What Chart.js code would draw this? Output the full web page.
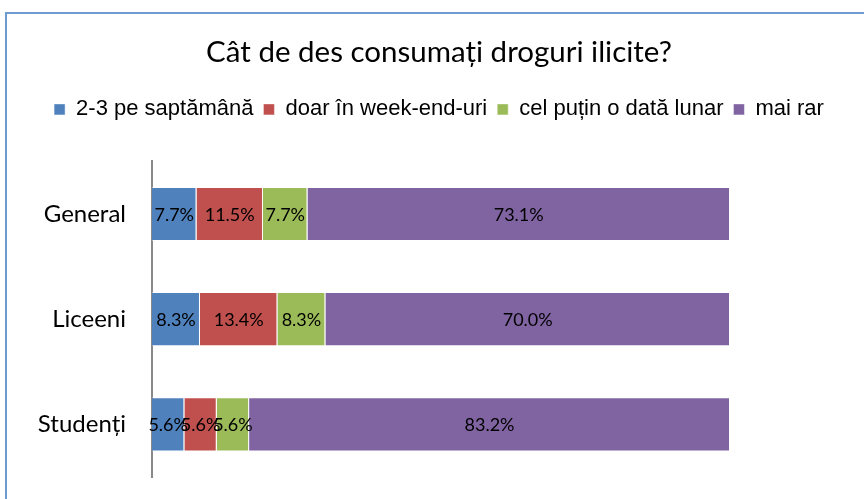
<!DOCTYPE html>
<html>
<head>
<meta charset="utf-8">
<script src="https://cdn.jsdelivr.net/npm/chart.js@4"></script>
<style>
html,body{margin:0;padding:0;background:#fff;}
#wrap{position:relative;width:864px;height:499px;overflow:hidden;}
#frame{position:absolute;left:5px;top:12px;width:900px;height:600px;border-left:2px solid #6f9bd0;border-top:2px solid #6f9bd0;}
canvas{position:absolute;left:0;top:0;}
</style>
</head>
<body>
<div id="wrap">
<div id="frame"></div>
<canvas id="c" width="864" height="499"></canvas>
</div>
<script>
const categories = ["General","Liceeni","Studenți"];

const seriesNames = [
"2-3 pe saptămână",
"doar în week-end-uri",
"cel puțin o dată lunar",
"mai rar"
];

const weekly = [7.7, 8.3, 5.6];
const weekends = [11.5, 13.4, 5.6];
const monthly = [7.7, 8.3, 5.6];
const rarely = [73.1, 70.0, 83.2];

const colors = ["#4F81BD","#C0504D","#9BBB59","#8064A2"];

const values = [weekly, weekends, monthly, rarely];

// labels in the middle of each piece
const segLabels = {
id:"segLabels",
afterDatasetsDraw(chart){
const ctx = chart.ctx;
ctx.save();
ctx.font = "18px Lato";
ctx.fillStyle = "#000";
ctx.textAlign = "center";
ctx.textBaseline = "middle";
chart.data.datasets.forEach((ds,i)=>{
chart.getDatasetMeta(i).data.forEach((bar,j)=>{
const p = bar.getProps(["x","y","base"],true);
ctx.fillText(ds.data[j].toFixed(1)+"%", (p.x+p.base)/2, p.y+1);
});
});
ctx.restore();
}
};

// extra room under the legend
const legendGap = {
id:"legendGap",
beforeInit(chart){
const fit = chart.legend.fit;
chart.legend.fit = function(){
fit.bind(chart.legend)();
this.height += 31;
};
}
};

new Chart(
document.getElementById("c"),
{
type:"bar",
data:{
labels:categories,
datasets:values.map((v,i)=>({
label:seriesNames[i],
data:v,
backgroundColor:colors[i],
borderColor:"rgba(255,255,255,0.45)",
borderWidth:1,
categoryPercentage:0.515,
barPercentage:1
}))
},
options:{
indexAxis:"y",
responsive:false,
animation:false,
layout:{padding:{left:14,right:0,top:0,bottom:22}},
scales:{
x:{
stacked:true,
min:0,
max:100,
display:false
},
y:{
stacked:true,
grid:{display:false,drawTicks:false},
border:{display:true,color:"#888",width:2},
ticks:{
color:"#000",
font:{family:"Lato",size:24},
padding:26
},
afterFit(s){
s.width = 138;
s.paddingTop = 0;
s.paddingBottom = 0;
}
},
// empty room on the right
yr:{
position:"right",
grid:{display:false,drawTicks:false},
border:{display:false},
ticks:{display:false},
afterFit(s){ s.width = 134; }
}
},
plugins:{
title:{
display:true,
text:"Cât de des consumați droguri ilicite?",
color:"#000",
font:{family:"Lato",size:29.5,weight:"normal"},
padding:{top:35,bottom:18}
},
legend:{
labels:{
color:"#000",
font:{family:"Liberation Sans",size:22},
boxWidth:11,
boxHeight:11,
padding:10
}
},
tooltip:{enabled:false}
}
},
plugins:[segLabels,legendGap]
}
);
</script>
</body>
</html>
